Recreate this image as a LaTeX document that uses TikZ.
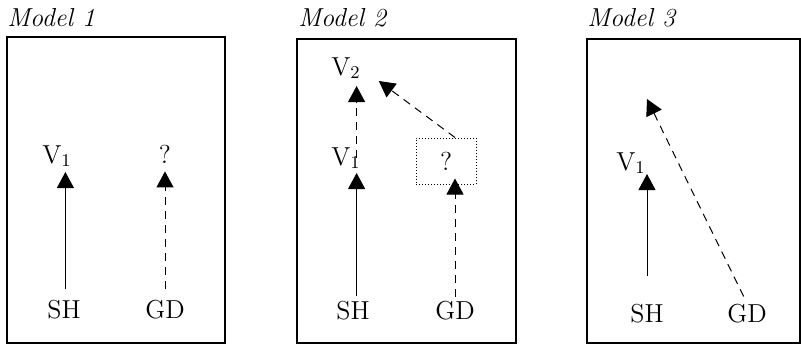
\documentclass[tikz,border=0pt]{standalone}
\usepackage{tikz}
\usetikzlibrary{arrows.meta,positioning}

\begin{document}
\begin{tikzpicture}[x=0.5pt,y=-0.5pt,every node/.style={font=\fontsize{13}{15}\selectfont,inner sep=0pt},
    panel/.style={draw,line width=0.55pt},
    title/.style={font=\fontsize{13}{15}\selectfont\itshape,anchor=base west},
    lbl/.style={anchor=base},
    vlbl/.style={anchor=base west},
    link/.style={line width=0.5pt,-{Triangle[width=8.5pt,length=8pt]}},
    guess/.style={link,dash pattern=on 4pt off 3pt}]
  \useasboundingbox (0,0) rectangle (801,344);

  % Model 1
  \node[title] (t1) at (7,26) {Model 1};
  \draw[panel] (7,37) rectangle (225,343);
  \node[lbl] (sh1) at (64,318) {SH};
  \node[lbl] (gd1) at (165,318) {GD};
  \node[vlbl] (v1a) at (42,163) {V$_1$};
  \node[lbl] (q1) at (165,163) {?};
  \draw[link,shorten <=5.1pt,shorten >=2.5pt] ([xshift=0.7pt]sh1.north) -- ([xshift=0.7pt]sh1 |- v1a.south);
  \draw[guess,shorten <=5.1pt,shorten >=4pt] (gd1.north) -- (q1.south);

  % Model 2
  \node[title] (t2) at (298,26) {Model 2};
  \draw[panel] (297,39) rectangle (516,343);
  \node[lbl] (sh2) at (353,319) {SH};
  \node[lbl] (gd2) at (455,319) {GD};
  \node[vlbl] (v1b) at (331,165) {V$_1$};
  \node[vlbl] (v2) at (331,75) {V$_2$};
  \node[draw,dash pattern=on 0.5pt off 1pt,line width=0.5pt,
        minimum width=30pt,minimum height=23pt] (q2) at (446,161) {?};
  \draw[link,shorten <=2.1pt,shorten >=2pt] ([xshift=1.8pt]sh2.north) -- ([xshift=1.8pt]sh2 |- v1b.south);
  \draw[guess,shorten >=3.5pt] ([xshift=1.8pt]sh2 |- v1b.center) -- ([xshift=1.8pt]sh2 |- v2.south);
  \draw[guess,shorten <=1.8pt,shorten >=-3pt] (gd2.north) -- (gd2 |- q2.south);
  \draw[guess,shorten >=11pt] (gd2 |- q2.north) -- (v2.east);

  % Model 3
  \node[title] (t3) at (587,26) {Model 3};
  \draw[panel] (587,39) rectangle (800,343);
  \node[lbl] (sh3) at (647,322) {SH};
  \node[lbl] (gd3) at (747,322) {GD};
  \node[vlbl] (v1c) at (616,170) {V$_1$};
  \coordinate (p3) at (647,99);
  \draw[link,shorten <=13.6pt] (sh3.north) -- (sh3 |- v1c.south);
  \draw[guess,shorten <=3.8pt] (gd3.north) -- (p3);
\end{tikzpicture}
\end{document}
